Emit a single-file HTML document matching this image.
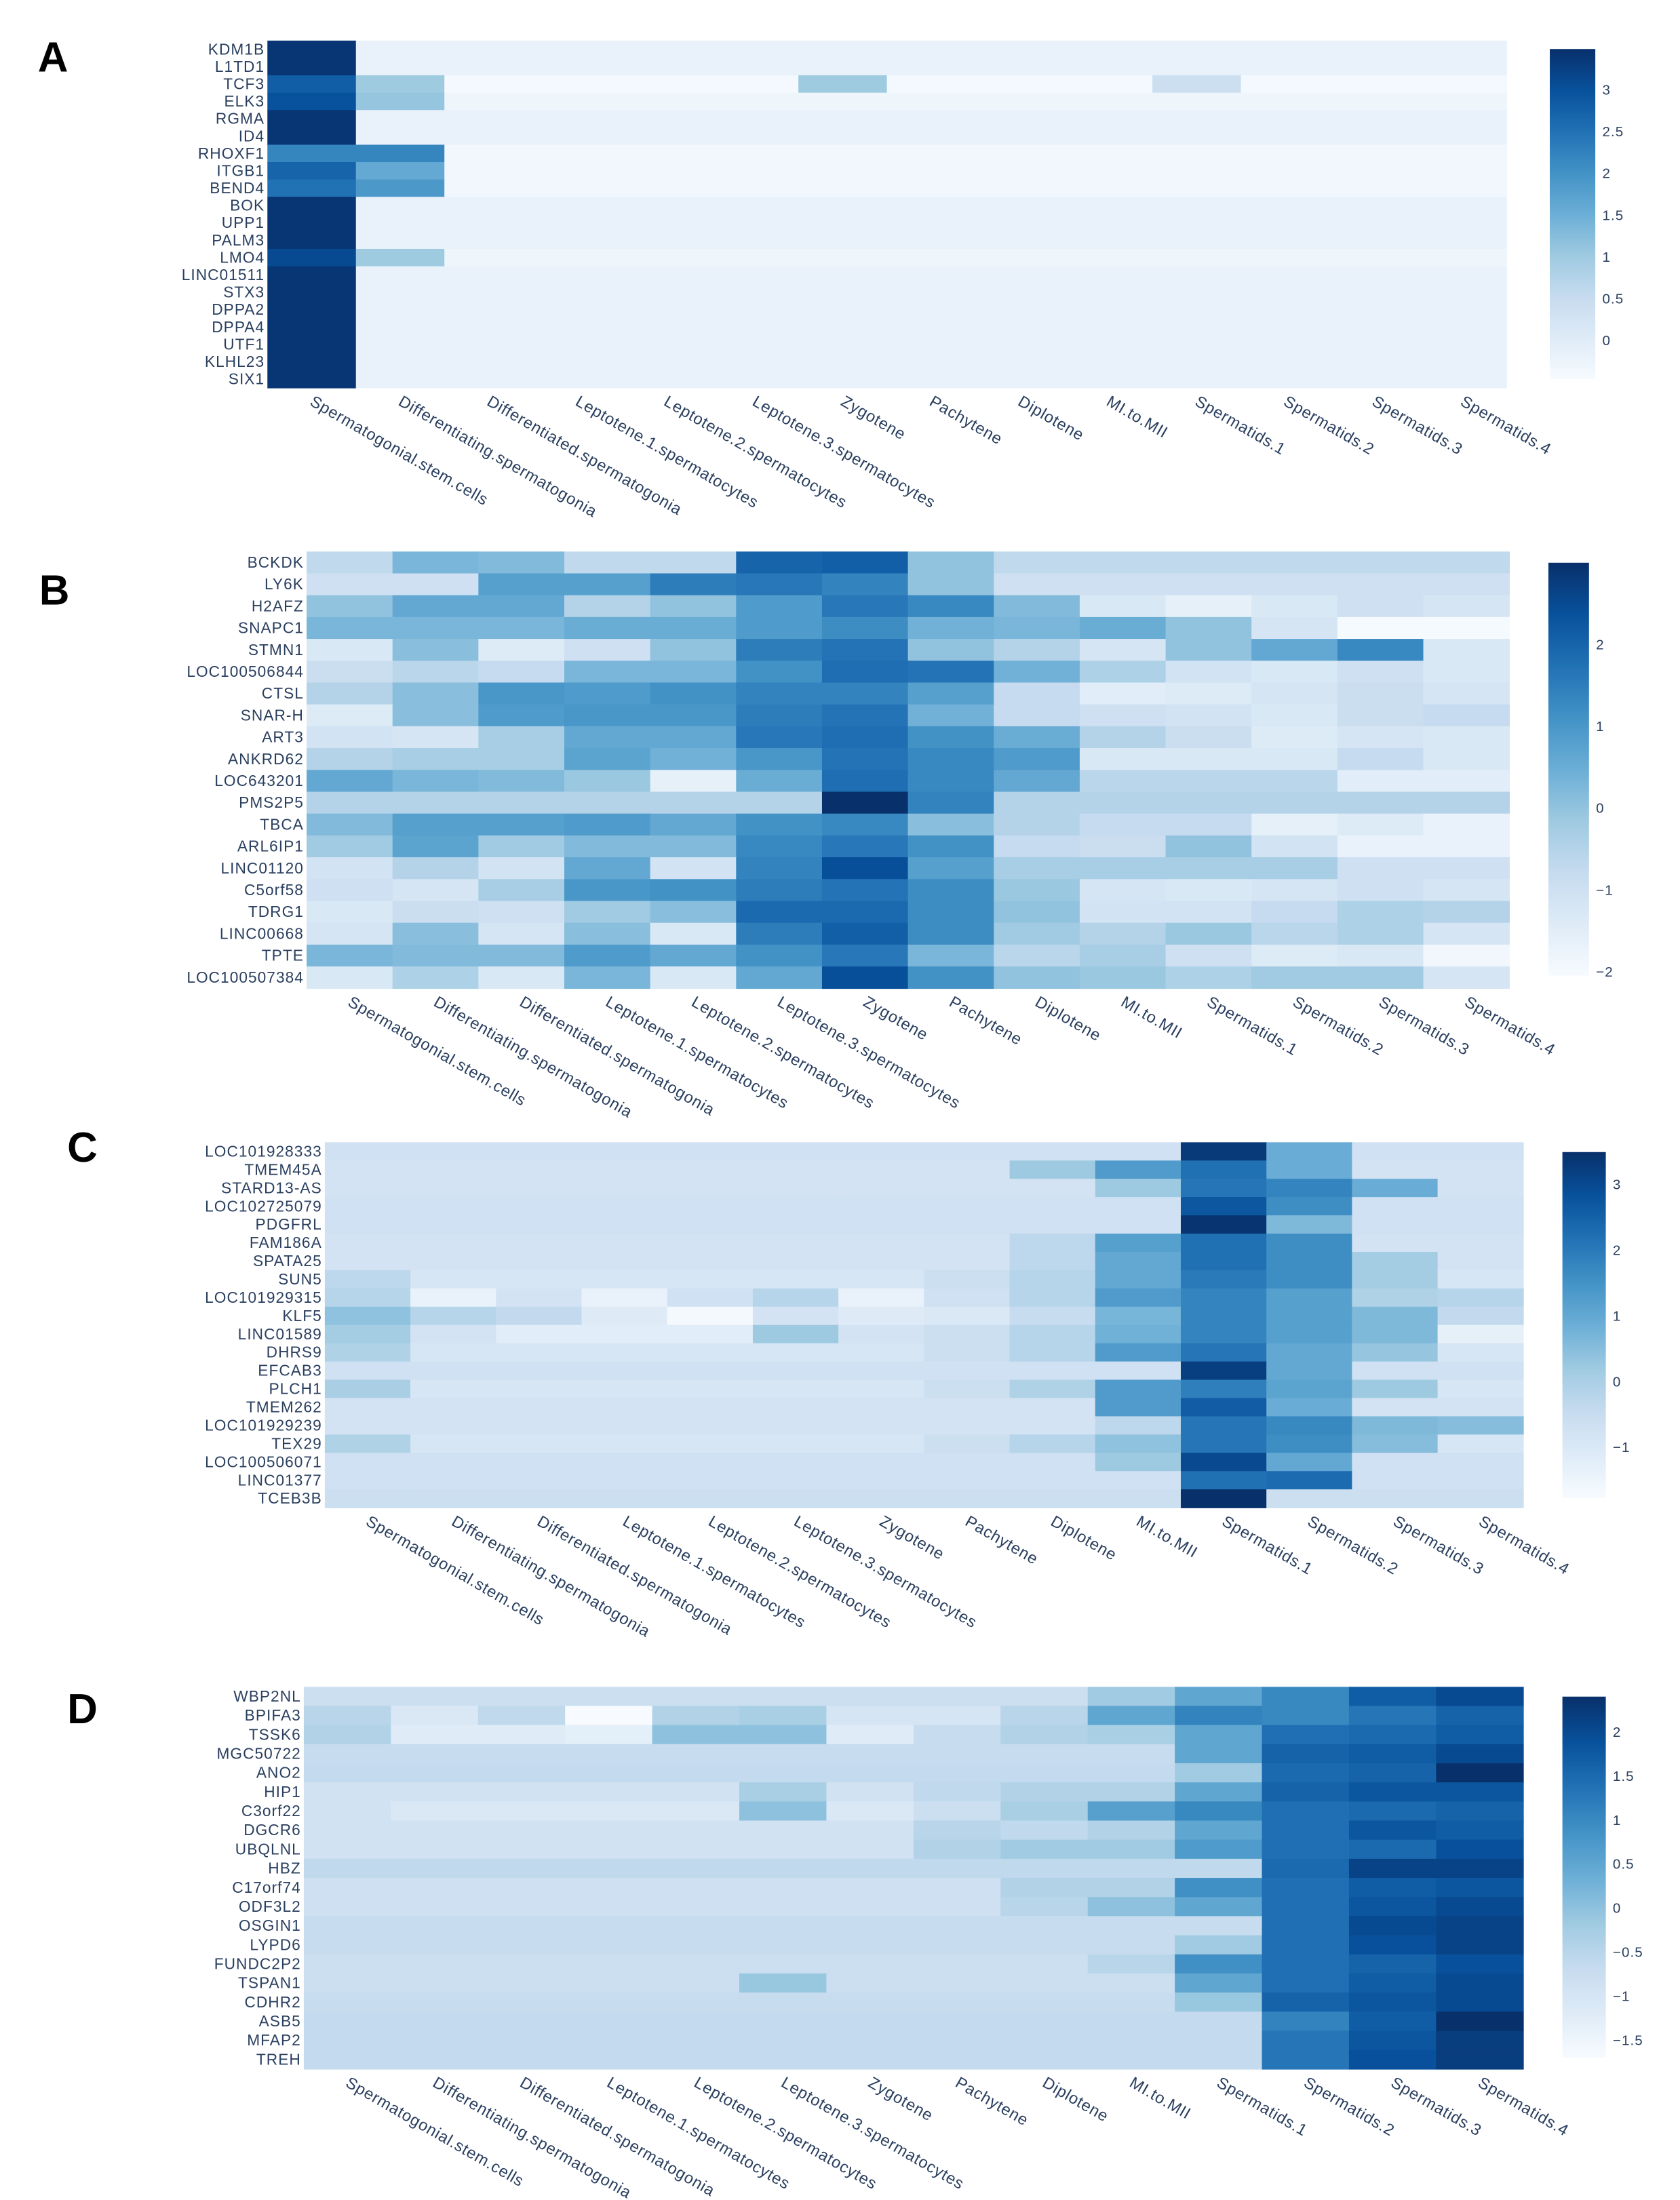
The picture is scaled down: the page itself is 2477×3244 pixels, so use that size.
<!DOCTYPE html>
<html><head><meta charset="utf-8"><style>
html,body{margin:0;padding:0;background:#fff;}
svg{display:block;}
text{font-family:"Liberation Sans",sans-serif;}
</style></head><body>
<svg id="fig" width="2477" height="3244" viewBox="0 0 1200 1571.6" preserveAspectRatio="none" xmlns="http://www.w3.org/2000/svg">
<defs>
<linearGradient id="blues" x1="0" y1="1" x2="0" y2="0">
<stop offset="0" stop-color="#f7fbff"/><stop offset="0.125" stop-color="#deebf7"/><stop offset="0.25" stop-color="#c6dbef"/><stop offset="0.375" stop-color="#9ecae1"/><stop offset="0.5" stop-color="#6baed6"/><stop offset="0.625" stop-color="#4292c6"/><stop offset="0.75" stop-color="#2171b5"/><stop offset="0.875" stop-color="#08519c"/><stop offset="1" stop-color="#08306b"/>
</linearGradient>
</defs>
</svg>
<script>
const categories=["Spermatogonial.stem.cells","Differentiating.spermatogonia","Differentiated.spermatogonia","Leptotene.1.spermatocytes","Leptotene.2.spermatocytes","Leptotene.3.spermatocytes","Zygotene","Pachytene","Diplotene","MI.to.MII","Spermatids.1","Spermatids.2","Spermatids.3","Spermatids.4"];

const rowsA=["KDM1B","L1TD1","TCF3","ELK3","RGMA","ID4","RHOXF1","ITGB1","BEND4","BOK","UPP1","PALM3","LMO4","LINC01511","STX3","DPPA2","DPPA4","UTF1","KLHL23","SIX1"];
const zA=[
[3.4,-0.2,-0.2,-0.2,-0.2,-0.2,-0.2,-0.2,-0.2,-0.2,-0.2,-0.2,-0.2,-0.2],
[3.4,-0.2,-0.2,-0.2,-0.2,-0.2,-0.2,-0.2,-0.2,-0.2,-0.2,-0.2,-0.2,-0.2],
[2.8,1.0,-0.4,-0.4,-0.4,-0.4,1.0,-0.4,-0.4,-0.4,0.4,-0.4,-0.4,-0.4],
[3.0,1.1,-0.3,-0.3,-0.3,-0.3,-0.3,-0.3,-0.3,-0.3,-0.3,-0.3,-0.3,-0.3],
[3.4,-0.2,-0.2,-0.2,-0.2,-0.2,-0.2,-0.2,-0.2,-0.2,-0.2,-0.2,-0.2,-0.2],
[3.4,-0.2,-0.2,-0.2,-0.2,-0.2,-0.2,-0.2,-0.2,-0.2,-0.2,-0.2,-0.2,-0.2],
[2.2,2.2,-0.35,-0.35,-0.35,-0.35,-0.35,-0.35,-0.35,-0.35,-0.35,-0.35,-0.35,-0.35],
[2.7,1.6,-0.35,-0.35,-0.35,-0.35,-0.35,-0.35,-0.35,-0.35,-0.35,-0.35,-0.35,-0.35],
[2.5,1.9,-0.35,-0.35,-0.35,-0.35,-0.35,-0.35,-0.35,-0.35,-0.35,-0.35,-0.35,-0.35],
[3.4,-0.2,-0.2,-0.2,-0.2,-0.2,-0.2,-0.2,-0.2,-0.2,-0.2,-0.2,-0.2,-0.2],
[3.4,-0.2,-0.2,-0.2,-0.2,-0.2,-0.2,-0.2,-0.2,-0.2,-0.2,-0.2,-0.2,-0.2],
[3.4,-0.2,-0.2,-0.2,-0.2,-0.2,-0.2,-0.2,-0.2,-0.2,-0.2,-0.2,-0.2,-0.2],
[3.1,1.0,-0.3,-0.3,-0.3,-0.3,-0.3,-0.3,-0.3,-0.3,-0.3,-0.3,-0.3,-0.3],
[3.4,-0.2,-0.2,-0.2,-0.2,-0.2,-0.2,-0.2,-0.2,-0.2,-0.2,-0.2,-0.2,-0.2],
[3.4,-0.2,-0.2,-0.2,-0.2,-0.2,-0.2,-0.2,-0.2,-0.2,-0.2,-0.2,-0.2,-0.2],
[3.4,-0.2,-0.2,-0.2,-0.2,-0.2,-0.2,-0.2,-0.2,-0.2,-0.2,-0.2,-0.2,-0.2],
[3.4,-0.2,-0.2,-0.2,-0.2,-0.2,-0.2,-0.2,-0.2,-0.2,-0.2,-0.2,-0.2,-0.2],
[3.4,-0.2,-0.2,-0.2,-0.2,-0.2,-0.2,-0.2,-0.2,-0.2,-0.2,-0.2,-0.2,-0.2],
[3.4,-0.2,-0.2,-0.2,-0.2,-0.2,-0.2,-0.2,-0.2,-0.2,-0.2,-0.2,-0.2,-0.2],
[3.4,-0.2,-0.2,-0.2,-0.2,-0.2,-0.2,-0.2,-0.2,-0.2,-0.2,-0.2,-0.2,-0.2]];
const ticksA=["3","2.5","2","1.5","1","0.5","0"];
const tickValsA=[3,2.5,2,1.5,1,0.5,0];

const rowsB=["BCKDK","LY6K","H2AFZ","SNAPC1","STMN1","LOC100506844","CTSL","SNAR-H","ART3","ANKRD62","LOC643201","PMS2P5","TBCA","ARL6IP1","LINC01120","C5orf58","TDRG1","LINC00668","TPTE","LOC100507384"];
const zB=[
[-0.7,0.3,0.2,-0.7,-0.7,2.0,2.1,0,-0.7,-0.7,-0.7,-0.7,-0.7,-0.7],
[-1.0,-1.0,0.8,0.8,1.5,1.6,1.4,0,-1.0,-1.0,-1.0,-1.0,-1.0,-1.0],
[0,0.6,0.6,-0.5,0,0.9,1.6,1.3,0.2,-1.3,-1.6,-1.3,-1.0,-1.2],
[0.3,0.3,0.3,0.5,0.5,0.9,1.2,0.4,0.3,0.5,0,-1.2,-2.0,-2.0],
[-1.3,0.1,-1.4,-1.0,0,1.5,1.7,0,-0.5,-1.2,0,0.6,1.3,-1.3],
[-0.9,-0.6,-0.8,0.3,0.3,1.1,1.8,1.7,0.4,-0.4,-1.1,-1.3,-1.0,-1.3],
[-0.5,0.1,1.0,0.9,1.1,1.4,1.4,0.8,-0.8,-1.5,-1.4,-1.2,-0.9,-1.2],
[-1.4,0.1,0.9,1.0,1.0,1.5,1.7,0.4,-0.8,-1.0,-1.1,-1.3,-0.9,-0.8],
[-1.1,-1.2,-0.3,0.6,0.6,1.6,1.8,1.1,0.5,-0.5,-0.9,-1.4,-1.2,-1.3],
[-0.5,-0.3,-0.3,0.7,0.4,1.0,1.7,1.3,0.9,-1.3,-1.3,-1.3,-0.8,-1.3],
[0.6,0.3,0.2,-0.1,-1.6,0.5,1.8,1.3,0.6,-0.6,-0.6,-0.6,-1.5,-1.5],
[-0.5,-0.5,-0.5,-0.5,-0.5,-0.5,3.0,1.4,-0.5,-0.5,-0.5,-0.5,-0.5,-0.5],
[0.2,0.8,0.8,0.9,0.6,1.1,1.3,0.1,-0.5,-0.8,-0.8,-1.6,-1.4,-1.7],
[-0.2,0.7,-0.2,0.2,0.2,1.3,1.6,1.1,-0.8,-0.9,0,-1.1,-1.7,-1.7],
[-1.1,-0.5,-1.1,0.6,-1.1,1.4,2.4,0.8,-0.3,-0.3,-0.3,-0.3,-1.0,-1.0],
[-1.0,-1.2,-0.3,1.0,1.1,1.5,1.7,1.2,-0.1,-1.2,-1.3,-1.2,-1.0,-1.2],
[-1.3,-0.9,-1.0,-0.2,0.1,1.9,1.9,1.2,0,-1.1,-1.1,-0.8,-0.4,-0.5],
[-1.2,0.1,-1.2,0.1,-1.3,1.5,2.1,1.2,-0.2,-0.5,-0.1,-0.6,-0.4,-1.2],
[0.3,0.2,0.2,0.9,0.6,1.1,1.6,0.3,-0.6,-0.3,-1.0,-1.4,-1.3,-1.9],
[-1.3,-0.4,-1.3,0.3,-1.3,0.6,2.4,1.1,0,-0.1,-0.4,-0.2,-0.2,-1.2]];
const ticksB=["2","1","0","\u22121","\u22122"];
const tickValsB=[2,1,0,-1,-2];

const rowsC=["LOC101928333","TMEM45A","STARD13-AS","LOC102725079","PDGFRL","FAM186A","SPATA25","SUN5","LOC101929315","KLF5","LINC01589","DHRS9","EFCAB3","PLCH1","TMEM262","LOC101929239","TEX29","LOC100506071","LINC01377","TCEB3B"];
const zC=[
[-0.7,-0.7,-0.7,-0.7,-0.7,-0.7,-0.7,-0.7,-0.7,-0.7,3.3,0.9,-0.7,-0.7],
[-0.8,-0.8,-0.8,-0.8,-0.8,-0.8,-0.8,-0.8,0.2,1.3,2.2,0.9,-0.8,-0.8],
[-0.8,-0.8,-0.8,-0.8,-0.8,-0.8,-0.8,-0.8,-0.8,0.2,2.1,1.8,0.9,-0.8],
[-0.7,-0.7,-0.7,-0.7,-0.7,-0.7,-0.7,-0.7,-0.7,-0.7,2.7,1.6,-0.7,-0.7],
[-0.7,-0.7,-0.7,-0.7,-0.7,-0.7,-0.7,-0.7,-0.7,-0.7,3.4,0.6,-0.7,-0.7],
[-0.8,-0.8,-0.8,-0.8,-0.8,-0.8,-0.8,-0.8,-0.3,1.2,2.2,1.6,-0.8,-0.8],
[-0.8,-0.8,-0.8,-0.8,-0.8,-0.8,-0.8,-0.8,-0.3,1.0,2.2,1.6,0.1,-0.8],
[-0.3,-0.9,-0.9,-0.9,-0.9,-0.9,-0.9,-0.6,-0.2,1.0,2.0,1.6,0.1,-0.9],
[-0.2,-1.4,-0.8,-1.4,-0.7,-0.2,-1.4,-0.7,-0.2,1.3,1.8,1.2,-0.1,-0.2],
[0.4,-0.2,-0.4,-1.1,-1.7,-0.8,-1.1,-1.0,-0.5,0.7,1.8,1.2,0.6,-0.4],
[0.1,-0.8,-1.2,-1.2,-1.2,0.2,-0.8,-0.6,-0.2,0.8,1.8,1.2,0.6,-1.3],
[-0.1,-0.9,-0.9,-0.9,-0.9,-0.9,-0.9,-0.6,-0.2,1.3,2.1,1.0,0.3,-0.9],
[-0.7,-0.7,-0.7,-0.7,-0.7,-0.7,-0.7,-0.7,-0.7,-0.7,3.2,1.0,-0.7,-0.7],
[0,-0.9,-0.9,-0.9,-0.9,-0.9,-0.9,-0.6,-0.1,1.3,1.9,1.1,0.2,-0.9],
[-0.8,-0.8,-0.8,-0.8,-0.8,-0.8,-0.8,-0.8,-0.8,1.3,2.6,0.9,-0.8,-0.8],
[-0.8,-0.8,-0.8,-0.8,-0.8,-0.8,-0.8,-0.8,-0.8,-0.3,2.1,1.7,0.6,0.5],
[-0.1,-0.9,-0.9,-0.9,-0.9,-0.9,-0.9,-0.6,-0.2,0.4,2.1,1.6,0.5,-0.9],
[-0.7,-0.7,-0.7,-0.7,-0.7,-0.7,-0.7,-0.7,-0.7,0.2,3.0,1.0,-0.7,-0.7],
[-0.7,-0.7,-0.7,-0.7,-0.7,-0.7,-0.7,-0.7,-0.7,-0.7,2.2,2.3,-0.7,-0.7],
[-0.6,-0.6,-0.6,-0.6,-0.6,-0.6,-0.6,-0.6,-0.6,-0.6,3.5,-0.6,-0.6,-0.6]];
const ticksC=["3","2","1","0","\u22121"];
const tickValsC=[3,2,1,0,-1];

const rowsD=["WBP2NL","BPIFA3","TSSK6","MGC50722","ANO2","HIP1","C3orf22","DGCR6","UBQLNL","HBZ","C17orf74","ODF3L2","OSGIN1","LYPD6","FUNDC2P2","TSPAN1","CDHR2","ASB5","MFAP2","TREH"];
const zD=[
[-0.8,-0.8,-0.8,-0.8,-0.8,-0.8,-0.8,-0.8,-0.8,-0.2,0.5,1.0,1.7,2.0],
[-0.5,-1.1,-0.6,-1.7,-0.4,-0.3,-1.0,-1.0,-0.5,0.5,1.1,1.0,1.3,1.6],
[-0.4,-1.2,-1.2,-1.3,0,0,-1.2,-0.7,-0.4,-0.3,0.5,1.4,1.5,1.7],
[-0.7,-0.7,-0.7,-0.7,-0.7,-0.7,-0.7,-0.7,-0.7,-0.7,0.5,1.6,1.7,2.0],
[-0.65,-0.65,-0.65,-0.65,-0.65,-0.65,-0.65,-0.65,-0.65,-0.65,-0.2,1.5,1.6,2.4],
[-0.9,-0.9,-0.9,-0.9,-0.9,-0.3,-0.9,-0.6,-0.4,-0.4,0.5,1.6,1.8,1.8],
[-0.9,-1.1,-1.1,-1.1,-1.1,0,-1.1,-0.8,-0.3,0.6,1.0,1.4,1.5,1.6],
[-0.9,-0.9,-0.9,-0.9,-0.9,-0.9,-0.9,-0.5,-0.6,-0.4,0.5,1.4,1.8,1.7],
[-0.9,-0.9,-0.9,-0.9,-0.9,-0.9,-0.9,-0.4,-0.2,-0.2,0.7,1.4,1.5,1.9],
[-0.6,-0.6,-0.6,-0.6,-0.6,-0.6,-0.6,-0.6,-0.6,-0.6,-0.6,1.5,2.1,2.1],
[-0.85,-0.85,-0.85,-0.85,-0.85,-0.85,-0.85,-0.85,-0.4,-0.4,0.9,1.4,1.7,1.8],
[-0.85,-0.85,-0.85,-0.85,-0.85,-0.85,-0.85,-0.85,-0.5,0,0.5,1.4,1.8,2.0],
[-0.7,-0.7,-0.7,-0.7,-0.7,-0.7,-0.7,-0.7,-0.7,-0.7,-0.7,1.4,2.0,2.1],
[-0.7,-0.7,-0.7,-0.7,-0.7,-0.7,-0.7,-0.7,-0.7,-0.7,-0.2,1.4,1.9,2.1],
[-0.8,-0.8,-0.8,-0.8,-0.8,-0.8,-0.8,-0.8,-0.8,-0.5,0.9,1.4,1.6,1.9],
[-0.8,-0.8,-0.8,-0.8,-0.8,-0.1,-0.8,-0.8,-0.8,-0.8,0.5,1.4,1.7,2.0],
[-0.7,-0.7,-0.7,-0.7,-0.7,-0.7,-0.7,-0.7,-0.7,-0.7,-0.1,1.6,1.8,2.0],
[-0.65,-0.65,-0.65,-0.65,-0.65,-0.65,-0.65,-0.65,-0.65,-0.65,-0.65,1.1,1.7,2.4],
[-0.65,-0.65,-0.65,-0.65,-0.65,-0.65,-0.65,-0.65,-0.65,-0.65,-0.65,1.3,1.8,2.2],
[-0.65,-0.65,-0.65,-0.65,-0.65,-0.65,-0.65,-0.65,-0.65,-0.65,-0.65,1.3,1.9,2.2]];
const ticksD=["2","1.5","1","0.5","0","\u22120.5","\u22121","\u22121.5"];
const tickValsD=[2,1.5,1,0.5,0,-0.5,-1,-1.5];

const NS="http://www.w3.org/2000/svg";
const svg=document.getElementById('fig');
const stops=[[247,251,255],[222,235,247],[198,219,239],[158,202,225],[107,174,214],[66,146,198],[33,113,181],[8,81,156],[8,48,107]];
function colorOf(t){t=Math.max(0,Math.min(1,t));const p=t*8;const i=Math.min(7,Math.floor(p));const f=p-i;const a=stops[i],b=stops[i+1];return 'rgb('+a.map((v,k)=>Math.round(v+(b[k]-v)*f)).join(',')+')';}
function mk(tag,attrs,parent){const e=document.createElementNS(NS,tag);for(const k in attrs)e.setAttribute(k,attrs[k]);parent.appendChild(e);return e;}

function panel(id,letter,lx,ly,hm,cb,zmin,zmax,rows,z,ticks,tickVals){
  const g=mk('g',{},svg);
  
  
  const L=mk('text',{x:lx,y:ly,'font-size':30,'font-weight':'bold',fill:'#000'},g);
  
  
  L.textContent=letter;
  const nC=categories.length,nR=rows.length;
  const cw=(hm.x1-hm.x0)/nC,rh=(hm.y1-hm.y0)/nR;
  const xs=c=>hm.x0+c*cw, ys=r=>hm.y0+r*rh;
  const norm=v=>(v-zmin)/(zmax-zmin);
  for(let r=0;r<nR;r++){for(let c=0;c<nC;c++){
    const rc=mk('rect',{x:xs(c),y:ys(r),width:cw+0.4,height:rh+0.4,fill:colorOf(norm(z[r][c]))},g);
    
    
  }}
  for(let r=0;r<nR;r++){
    const t=mk('text',{x:hm.x0-2,y:ys(r)+rh/2+3.7,'font-size':11,'letter-spacing':0.5,'text-anchor':'end',fill:'#2a3f5f'},g);
    
    
    t.textContent=rows[r];
  }
  for(let c=0;c<nC;c++){
    const x=xs(c)+cw/2-2,y=hm.y1+12;
    const t=mk('text',{x:x,y:y,'font-size':11.5,'letter-spacing':0.4,fill:'#2a3f5f',transform:'rotate(30 '+x+' '+y+')'},g);
    
    
    t.textContent=categories[c];
  }
  const bar=mk('rect',{x:cb.x0,y:cb.y0,width:cb.x1-cb.x0,height:cb.y1-cb.y0,fill:'url(#blues)'},g);
  
  
  const cy=v=>cb.y1-(v-zmin)/(zmax-zmin)*(cb.y1-cb.y0);
  for(let i=0;i<ticks.length;i++){
    const t=mk('text',{x:cb.x1+5,y:cy(tickVals[i])+3.5,'font-size':10,'letter-spacing':0.5,fill:'#2a3f5f'},g);
    
    
    t.textContent=ticks[i];
  }
}
panel('a','A',27,51,{x0:191,x1:1076,y0:29,y1:277},{x0:1107,x1:1139.5,y0:35,y1:271},-0.47,3.49,rowsA,zA,ticksA,tickValsA);
panel('b','B',28,432,{x0:219,x1:1078,y0:394,y1:706},{x0:1106,x1:1135,y0:402,y1:697},-2.05,3.0,rowsB,zB,ticksB,tickValsB);
panel('c','C',48,830,{x0:232,x1:1088,y0:816,y1:1077},{x0:1116,x1:1147,y0:823,y1:1070},-1.77,3.49,rowsC,zC,ticksC,tickValsC);
panel('d','D',48,1231,{x0:217,x1:1088,y0:1205,y1:1478},{x0:1116,x1:1147,y0:1212,y1:1470},-1.7,2.4,rowsD,zD,ticksD,tickValsD);
</script>
</body></html>
